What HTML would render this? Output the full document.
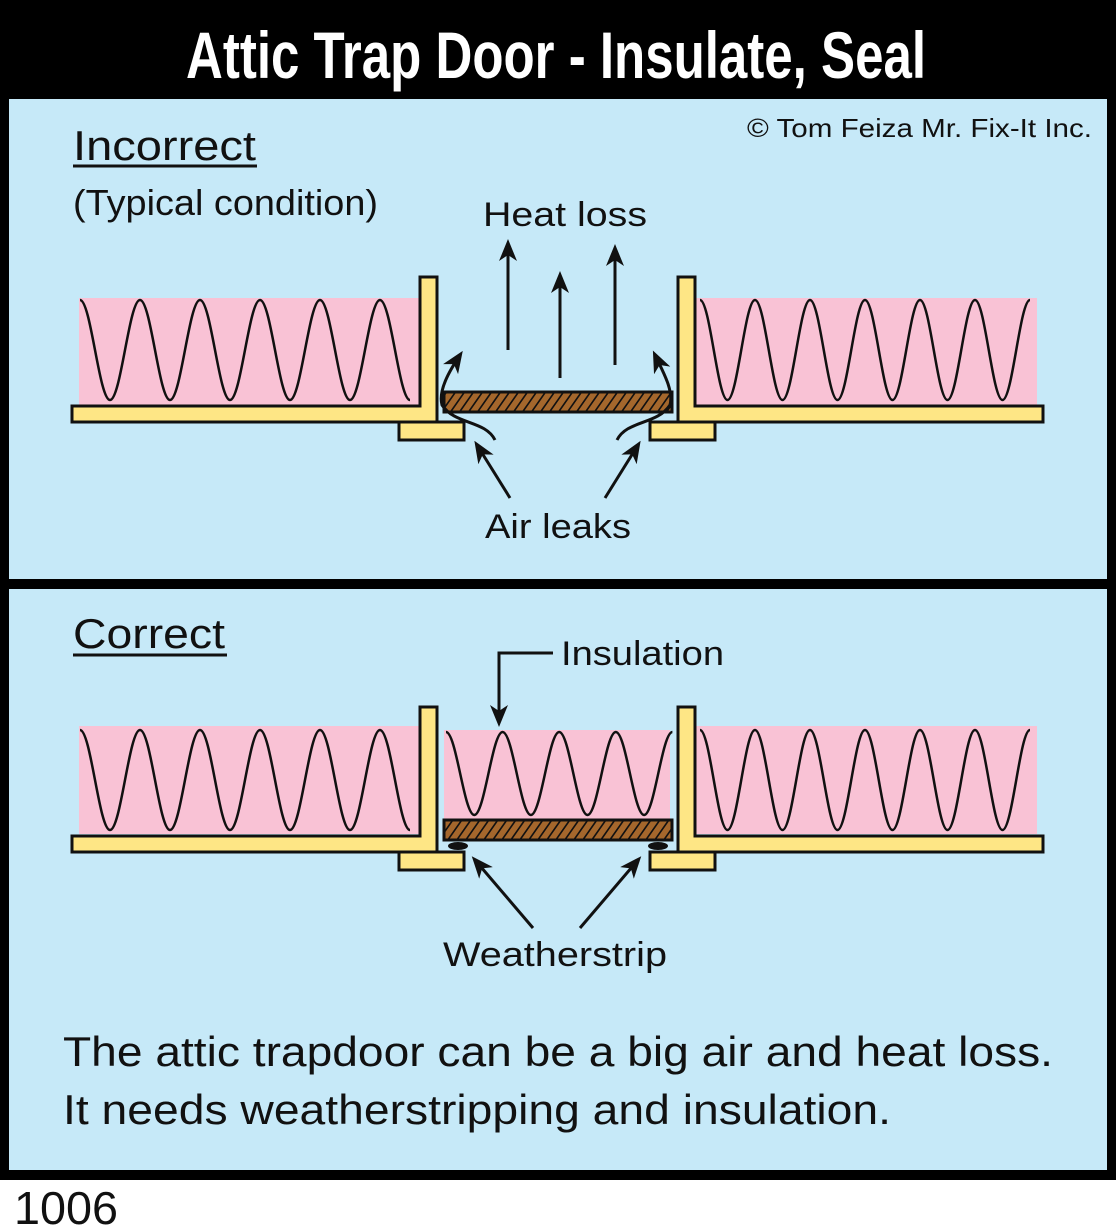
<!DOCTYPE html>
<html><head><meta charset="utf-8"><style>
html,body{margin:0;padding:0;background:#fff}
svg{display:block}
text{font-family:"Liberation Sans",sans-serif;fill:#111}
</style></head><body>
<svg id="s" width="1116" height="1227" viewBox="0 0 1116 1227" xmlns="http://www.w3.org/2000/svg">
<defs>
<pattern id="h" width="9" height="20" patternUnits="userSpaceOnUse" patternTransform="skewX(-35)">
<rect width="9" height="20" fill="#a4672c"/><line x1="1" y1="0" x2="1" y2="20" stroke="#111" stroke-width="2"/>
</pattern>
<marker id="b" markerWidth="22" markerHeight="22" refX="17" refY="11" orient="auto" markerUnits="userSpaceOnUse" viewBox="0 0 22 22">
<path d="M0,2 L22,11 L0,20 L6,11 Z" fill="#111"/></marker>
</defs>
<rect x="0" y="0" width="1116" height="1180" fill="#000"/>
<text x="556" y="78" text-anchor="middle" textLength="740" lengthAdjust="spacingAndGlyphs" style="font-size:66px;font-weight:bold;fill:#fff">Attic Trap Door - Insulate, Seal</text>
<rect x="9" y="99" width="1098" height="480" fill="#c6e9f8"/>
<rect x="9" y="589" width="1098" height="581" fill="#c6e9f8"/>

<g>
<rect x="79" y="298" width="340" height="108" fill="#f9c2d5"/>
<rect x="695" y="298" width="342" height="108" fill="#f9c2d5"/>
<path id="w1" fill="none" stroke="#111" stroke-width="2.5"/>
<path id="w2" fill="none" stroke="#111" stroke-width="2.5"/>
<path d="M420,277 H437 V422 H72 V406 H420 Z" fill="#fee685" stroke="#111" stroke-width="3"/>
<path d="M695,277 H678 V422 H1043 V406 H695 Z" fill="#fee685" stroke="#111" stroke-width="3"/>
<rect x="399" y="422" width="65" height="18" fill="#fee685" stroke="#111" stroke-width="3"/>
<rect x="650" y="422" width="65" height="18" fill="#fee685" stroke="#111" stroke-width="3"/>
</g>
<rect x="444" y="392" width="228" height="20" fill="url(#h)" stroke="#111" stroke-width="3"/>
<g stroke="#111" stroke-width="3" fill="none">
<line x1="508" y1="350" x2="508" y2="244" marker-end="url(#b)"/>
<line x1="560" y1="378" x2="560" y2="276" marker-end="url(#b)"/>
<line x1="615" y1="365" x2="615" y2="249" marker-end="url(#b)"/>
<path d="M495,440 C485,420 455,425 442,405 C438,390 450,370 460,355" marker-end="url(#b)"/>
<path d="M617,440 C627,420 657,425 670,405 C674,390 662,370 655,355" marker-end="url(#b)"/>
<line x1="510" y1="498" x2="477" y2="445" marker-end="url(#b)"/>
<line x1="605" y1="498" x2="638" y2="445" marker-end="url(#b)"/>
</g>

<g>
<rect x="79" y="726" width="340" height="108" fill="#f9c2d5"/>
<rect x="695" y="726" width="342" height="108" fill="#f9c2d5"/>
<rect x="444" y="730" width="226" height="90" fill="#f9c2d5"/>
<path id="w3" fill="none" stroke="#111" stroke-width="2.5"/>
<path id="w4" fill="none" stroke="#111" stroke-width="2.5"/>
<path id="w5" fill="none" stroke="#111" stroke-width="2.5"/>
<path d="M420,707 H437 V852 H72 V836 H420 Z" fill="#fee685" stroke="#111" stroke-width="3"/>
<path d="M695,707 H678 V852 H1043 V836 H695 Z" fill="#fee685" stroke="#111" stroke-width="3"/>
<rect x="399" y="852" width="65" height="18" fill="#fee685" stroke="#111" stroke-width="3"/>
<rect x="650" y="852" width="65" height="18" fill="#fee685" stroke="#111" stroke-width="3"/>
<ellipse cx="458" cy="846" rx="10" ry="4" fill="#111"/>
<ellipse cx="658" cy="846" rx="10" ry="4" fill="#111"/>
</g>
<rect x="444" y="820" width="228" height="20" fill="url(#h)" stroke="#111" stroke-width="3"/>
<g stroke="#111" stroke-width="3" fill="none">
<path d="M553,653 H499 V722" marker-end="url(#b)"/>
<line x1="533" y1="928" x2="475" y2="860" marker-end="url(#b)"/>
<line x1="580" y1="928" x2="638" y2="860" marker-end="url(#b)"/>
</g>

<text x="73" y="160" style="font-size:42px" textLength="183" lengthAdjust="spacingAndGlyphs">Incorrect</text>
<line x1="73" y1="166" x2="257" y2="166" stroke="#111" stroke-width="3"/>
<text x="73" y="215" style="font-size:36px" textLength="305" lengthAdjust="spacingAndGlyphs">(Typical condition)</text>
<text x="1092" y="137" text-anchor="end" style="font-size:26px" textLength="345" lengthAdjust="spacingAndGlyphs">© Tom Feiza Mr. Fix-It Inc.</text>
<text x="565" y="226" text-anchor="middle" style="font-size:34px" textLength="164" lengthAdjust="spacingAndGlyphs">Heat loss</text>
<text x="558" y="538" text-anchor="middle" style="font-size:34px" textLength="146" lengthAdjust="spacingAndGlyphs">Air leaks</text>
<text x="73" y="648" style="font-size:42px" textLength="152" lengthAdjust="spacingAndGlyphs">Correct</text>
<line x1="73" y1="655" x2="227" y2="655" stroke="#111" stroke-width="3"/>
<text x="561" y="665" style="font-size:34px" textLength="163" lengthAdjust="spacingAndGlyphs">Insulation</text>
<text x="555" y="966" text-anchor="middle" style="font-size:34px" textLength="224" lengthAdjust="spacingAndGlyphs">Weatherstrip</text>
<text x="63" y="1066" style="font-size:42px" textLength="990" lengthAdjust="spacingAndGlyphs">The attic trapdoor can be a big air and heat loss.</text>
<text x="63" y="1124" style="font-size:42px" textLength="828" lengthAdjust="spacingAndGlyphs">It needs weatherstripping and insulation.</text>
<text x="14" y="1224" style="font-size:46px" textLength="104" lengthAdjust="spacingAndGlyphs">1006</text>
</svg>
<script>
function wave(id,x0,h,n,yt,yb,startTop){
  var d="M"+x0+","+(startTop?yt:yb), up=startTop;
  for(var i=0;i<n;i++){
    var x=x0+i*h, y1=up?yt:yb, y2=up?yb:yt;
    d+=" C"+(x+h*0.364)+","+y1+" "+(x+h*0.636)+","+y2+" "+(x+h)+","+y2;
    up=!up;
  }
  document.getElementById(id).setAttribute("d",d);
}
wave("w1",80,30,11,300,400,true);
wave("w2",700,27.5,12,300,400,true);
wave("w3",80,30,11,730,830,true);
wave("w4",700,27.5,12,730,830,true);
wave("w5",446,28.3,8,732,815,true);
</script>
</body></html>
